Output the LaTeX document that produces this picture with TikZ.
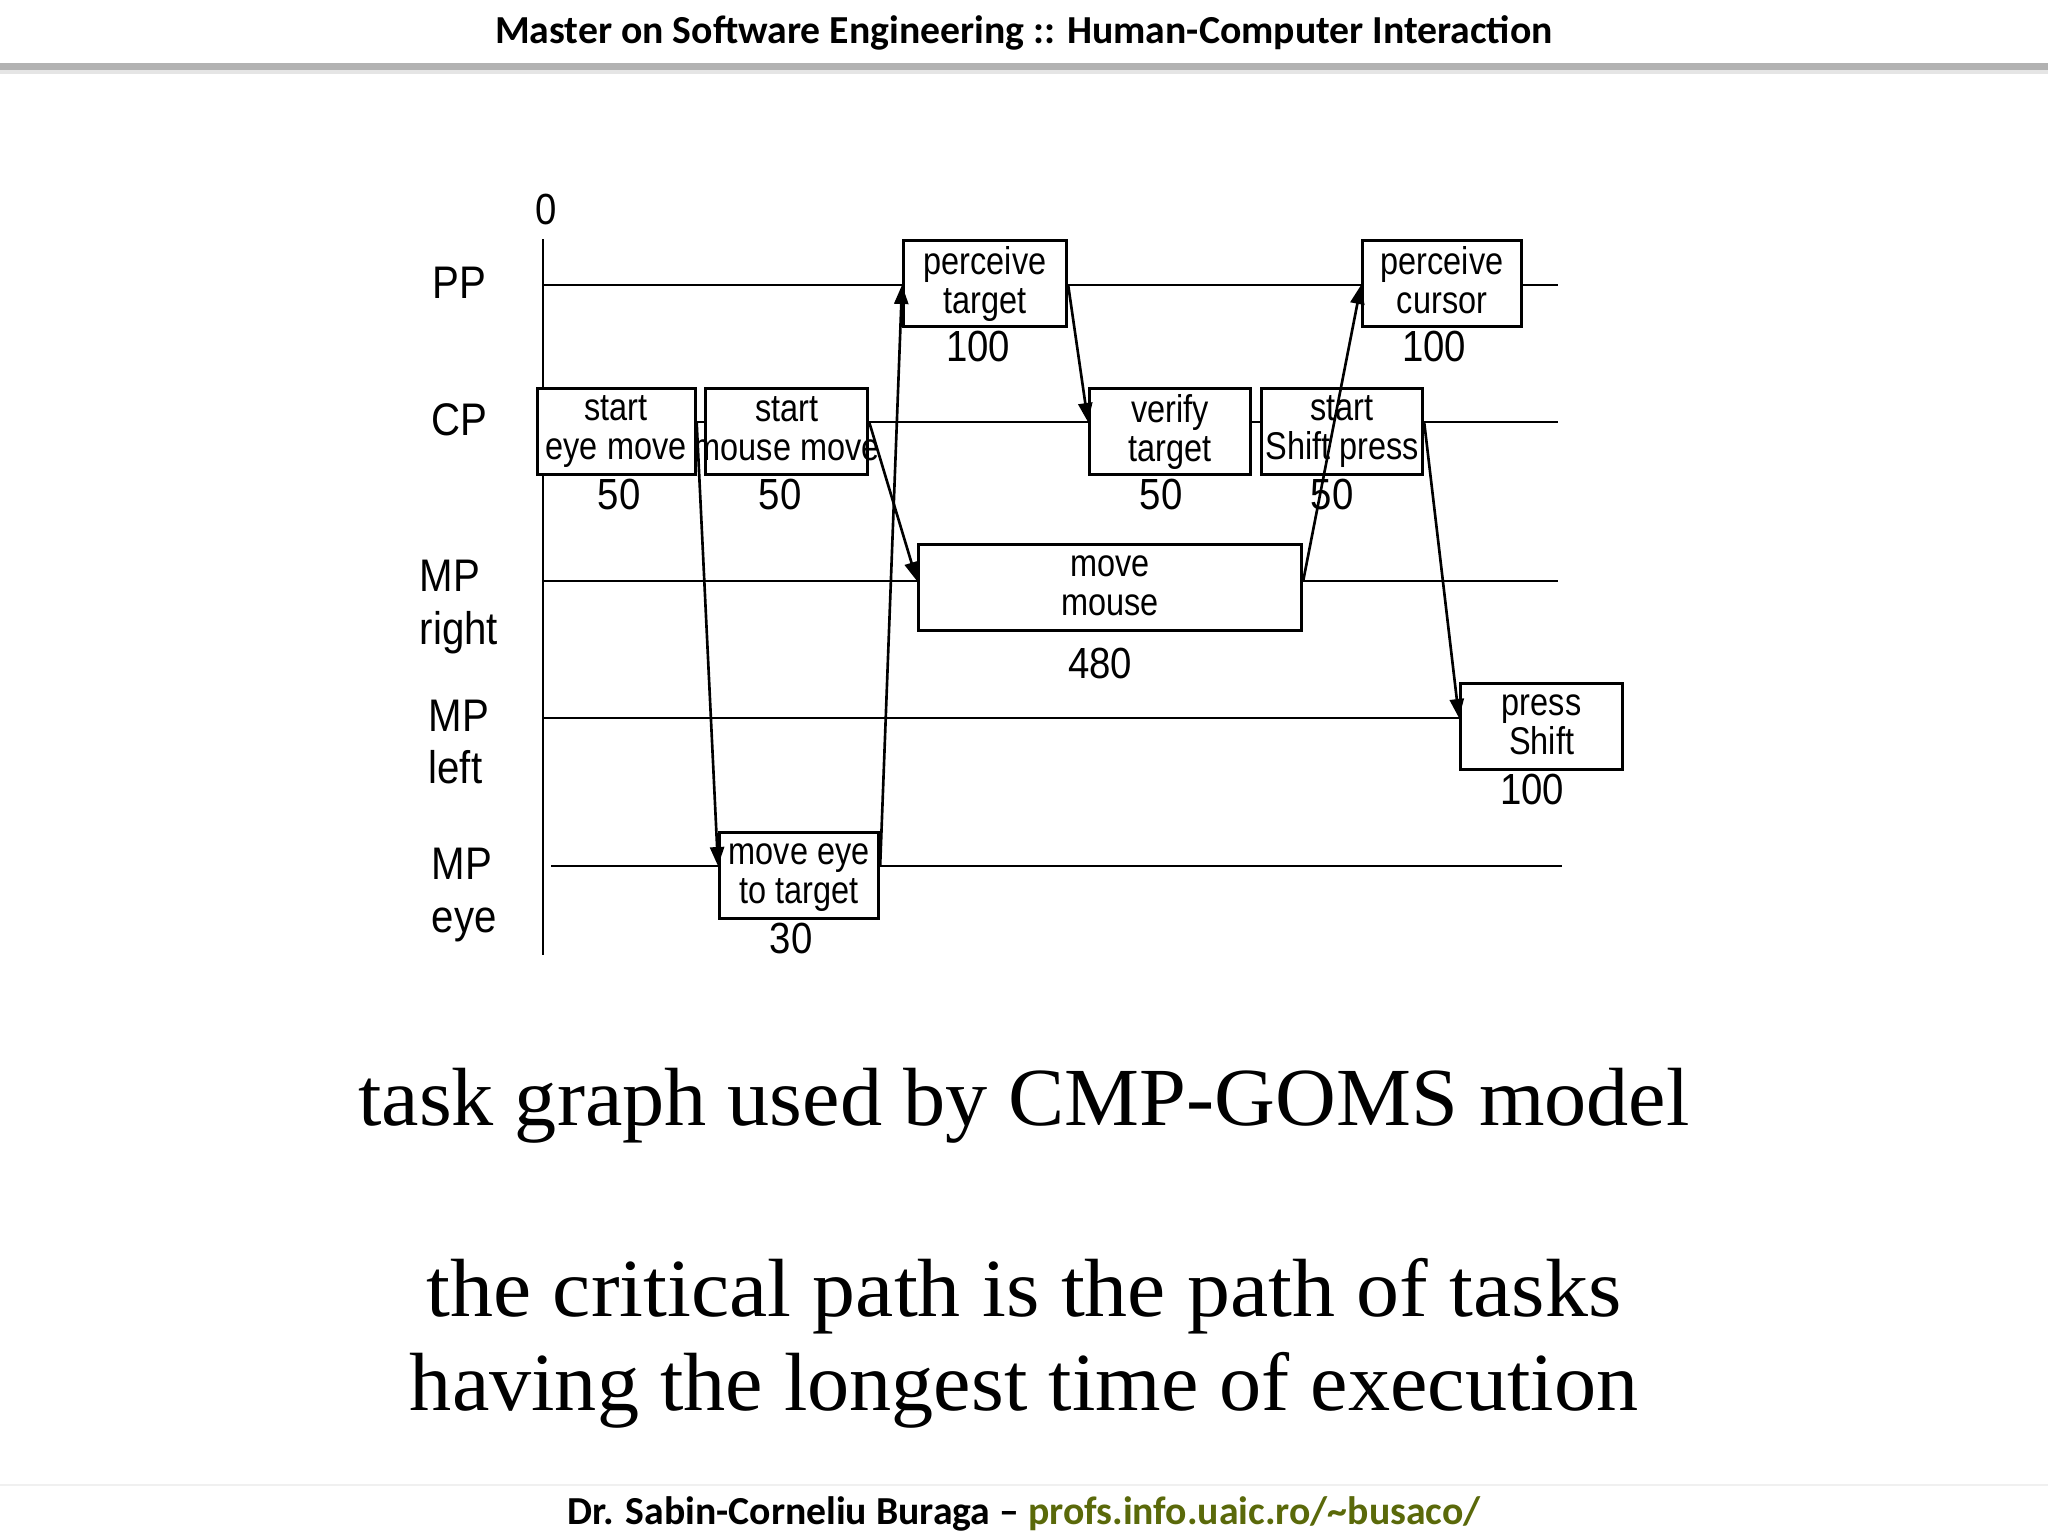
\documentclass[tikz,border=0pt]{standalone}
\usepackage{fontspec}
\setmainfont{Liberation Serif}
\newfontfamily\diagfont[FakeStretch=0.88]{Liberation Sans}
\newfontfamily\boxfont[FakeStretch=0.84]{Liberation Sans}
\newfontfamily\hdrfont{Carlito}
\newfontfamily\bigserif[FakeStretch=1.02]{Liberation Serif}
\newfontfamily\bigserifw[FakeStretch=1.04]{Liberation Serif}
\usetikzlibrary{arrows.meta}
\definecolor{urlgreen}{RGB}{90,105,10}
\newcommand\bxs{\rule[-2pt]{0pt}{9pt}}
\tikzset{
  lane/.style={line width=0.75pt},
  taskbox/.style={draw, line width=0.9pt, fill=white, anchor=north west, align=center,
    inner sep=0pt, minimum height=8.6mm,
    font={\boxfont\fontsize{11}{11.1}\selectfont\lineskiplimit=-20pt}},
  num/.style={inner sep=0pt, font=\diagfont\fontsize{12.4}{14}\selectfont},
  lbl/.style={inner sep=0pt, anchor=west, align=left, font=\diagfont\fontsize{13}{14.8}\selectfont},
  arr/.style={line width=0.75pt, -{Triangle[length=1.9mm, width=1.4mm]}},
  hdr/.style={inner sep=0pt, font=\hdrfont\bfseries\fontsize{11.3}{13}\selectfont},
  big/.style={inner sep=0pt, anchor=base, font=\bigserif\fontsize{23.5}{28}\selectfont}
}
\begin{document}
\begin{tikzpicture}[x=0.1mm, y=-0.1mm]
\useasboundingbox (0,0) rectangle (2048,1536);
\fill[white] (0,0) rectangle (2048,1536);
% header and footer
\fill[gray!60] (0,63) rectangle (2048,70);
\fill[gray!20] (0,70) rectangle (2048,74);
\node[hdr] (title) at (1024,33) {Master on Software Engineering :: Human-Computer Interaction};
\draw[gray!12, line width=0.6pt] (0,1485) -- (2048,1485);
\node[hdr] (footer) at (1024,1514) {Dr. Sabin-Corneliu Buraga – \textcolor{urlgreen}{profs.info.uaic.ro/\textasciitilde busaco/}};
% lanes
\coordinate (pp) at (543,285);
\coordinate (cp) at (543,422);
\coordinate (mpr) at (543,581);
\coordinate (mpl) at (543,718);
\coordinate (mpe) at (551,866);
\coordinate (laneend) at (1558,0);
\coordinate (axtop) at (543,239);
\coordinate (axbot) at (543,955);
\draw[lane] (pp) -- (laneend |- pp);
\draw[lane] (cp) -- (laneend |- cp);
\draw[lane] (mpr) -- (laneend |- mpr);
\draw[lane] (mpl) -- (1459,718);
\draw[lane] (mpe) -- (1562,866);
\draw[lane] (axtop) -- (axbot);
\node[num] (zero) at (546,209) {0};
% lane labels
\node[lbl] (lpp) at (432,283) {PP};
\node[lbl] (lcp) at (431,420) {CP};
\node[lbl, align=left] (lmpr) at (419,607) {MP\\right};
\node[lbl, align=left] (lmpl) at (428,742) {MP\\left};
\node[lbl, align=left] (lmpe) at (431,895) {MP\\eye};
% task boxes
\node[taskbox, minimum width=16.3mm] (pt) at (902,239) {\bxs perceive\\target\bxs};
\node[taskbox, minimum width=15.9mm] (pc) at (1361,239) {\bxs perceive\\cursor\bxs};
\node[taskbox, minimum width=15.8mm] (sem) at (535.5,387) {\bxs start\\eye move\bxs};
\node[taskbox, minimum width=16.2mm] (smm) at (704,387) {\bxs start\\\makebox[0pt]{mouse move}\bxs};
\node[taskbox, minimum width=16.1mm] (vt) at (1088,387) {\bxs verify\\target\bxs};
\node[taskbox, minimum width=16.1mm] (ssp) at (1260,387) {\bxs start\\\makebox[0pt]{Shift press}\bxs};
\node[taskbox, minimum width=38.3mm] (mm) at (917,543) {\bxs move\\mouse\bxs};
\node[taskbox, minimum width=16.2mm] (ps) at (1459,682) {\bxs press\\Shift\bxs};
\node[taskbox, minimum width=15.9mm] (me) at (718,831) {\bxs move eye\\to target\bxs};
% durations
\node[num] (npt) at (978,346) {100};
\node[num] (npc) at (1434,346) {100};
\node[num] (nsem) at (619,494) {50};
\node[num] (nsmm) at (780,494) {50};
\node[num] (nvt) at (1161,494) {50};
\node[num] (nssp) at (1332,494) {50};
\node[num] (nmm) at (1100,663) {480};
\node[num] (nps) at (1532,789) {100};
\node[num] (nme) at (791,938) {30};
% dependencies
\draw[arr] (sem.east |- cp) -- (me.west |- mpe);
\draw[arr] (me.east |- mpe) -- (pt.west |- pp);
\draw[arr] (smm.east |- cp) -- (mm.west |- mpr);
\draw[arr] (pt.east |- pp) -- (vt.west |- cp);
\draw[arr] (mm.east |- mpr) -- (pc.west |- pp);
\draw[arr] (ssp.east |- cp) -- (ps.west |- mpl);
% captions
\node[big] (cap1) at (1024,1125) {task graph used by CMP-GOMS model};
\node[big, font=\bigserifw\fontsize{23.5}{28}\selectfont] (cap2) at (1024,1316) {the critical path is the path of tasks};
\node[big] (cap3) at (1024,1410) {having the longest time of execution};
\end{tikzpicture}
\end{document}
